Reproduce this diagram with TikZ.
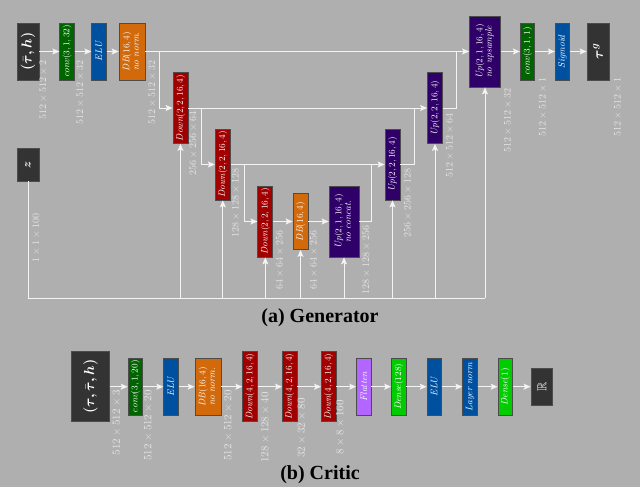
\documentclass[tikz,border=0pt]{standalone}
\usepackage{amsmath,amssymb,bm}
\usepackage{graphicx}
\usepackage{fontspec}
\newfontfamily\titlefont{Liberation Serif}
\usetikzlibrary{arrows.meta}
\definecolor{bg}{HTML}{AFAFAF}
\definecolor{dk}{HTML}{333333}
\definecolor{cgreen}{HTML}{006400}
\definecolor{cblue}{HTML}{0050A0}
\definecolor{corange}{HTML}{D2690A}
\definecolor{cred}{HTML}{A00000}
\definecolor{cpurple}{HTML}{2E0068}
\definecolor{cviolet}{HTML}{B266FF}
\definecolor{cgreen2}{HTML}{00CC00}
\definecolor{lblc}{HTML}{E6E6E6}
\definecolor{linec}{HTML}{F4F4F4}
\tikzset{
  blk/.style={draw=black!70, line width=0.8pt, inner sep=0pt, text=white, font=\fontsize{9.5}{10.5}\selectfont},
  sm/.style={blk, minimum width=14.5pt, minimum height=57pt},
  tl/.style={blk, minimum width=15pt, minimum height=71pt},
  dim/.style={rotate=90, anchor=north east, inner sep=0pt, text=lblc, font=\fontsize{10}{10}\selectfont},
  cdim/.style={dim, font=\fontsize{10.5}{10.5}\selectfont},
  ln/.style={draw=linec, line width=1pt},
  arr/.style={ln, -{Stealth[length=7pt, width=6pt, inset=1.5pt]}},
  ttl/.style={font=\titlefont\bfseries\fontsize{20}{20}\selectfont, text=black, inner sep=0pt}
}
\newcommand{\rt}[1]{\rotatebox{90}{#1}}
\newcommand{\two}[2]{\rotatebox{90}{\begin{tabular}{@{}c@{}}#1\\[-1pt]#2\end{tabular}}}
\begin{document}
\begin{tikzpicture}[x=1pt,y=-1pt]
\fill[bg] (0,0) rectangle (640,487);
% ---------------- Generator ----------------
\node[blk, fill=dk, minimum width=22pt, minimum height=57pt, font=\fontsize{14}{14}\selectfont] (tauh) at (28,51.5) {\rt{$\bm{(\bar{\tau}, h)}$}};
\node[sm, fill=cgreen] (conv1) at (67,51.5) {\rt{$\mathit{conv}(3, 1, 32)$}};
\node[sm, fill=cblue] (elu1) at (99,51.5) {\rt{$\mathit{ELU}$}};
\node[blk, fill=corange, minimum width=26pt, minimum height=57pt] (db1) at (132,51.5) {\two{$\mathit{DB}(16, 4)$}{\textit{no norm.}}};
\node[tl, fill=cred] (down1) at (180.5,108) {\rt{$\mathit{Down}(2, 2, 16, 4)$}};
\node[tl, fill=cred] (down2) at (222.8,164.5) {\rt{$\mathit{Down}(2, 2, 16, 4)$}};
\node[tl, fill=cred] (down3) at (265.3,221.5) {\rt{$\mathit{Down}(2, 2, 16, 4)$}};
\node[blk, fill=corange, minimum width=15pt, minimum height=56pt] (db2) at (300.5,221.5) {\rt{$\mathit{DB}(16, 4)$}};
\node[blk, fill=cpurple, minimum width=30pt, minimum height=71pt] (upnc) at (344,221.5) {\two{$\mathit{Up}(2, 1, 16, 4)$}{\textit{no concat.}}};
\node[tl, fill=cpurple] (up2) at (392.5,164.5) {\rt{$\mathit{Up}(2, 2, 16, 4)$}};
\node[tl, fill=cpurple] (up3) at (435,108) {\rt{$\mathit{Up}(2, 2, 16, 4)$}};
\node[blk, fill=cpurple, minimum width=31pt, minimum height=71pt] (up4) at (485,51.5) {\two{$\mathit{Up}(2, 1, 16, 4)$}{\textit{no upsample}}};
\node[sm, fill=cgreen] (conv2) at (527.5,51.5) {\rt{$\mathit{conv}(3, 1, 1)$}};
\node[sm, fill=cblue] (sig) at (562.5,51.5) {\rt{\textit{Sigmoid}}};
\node[blk, fill=dk, minimum width=22pt, minimum height=57pt, font=\fontsize{14}{14}\selectfont] (taug) at (598,51.5) {\rt{$\bm{\tau}^{\bm{g}}$}};
\node[blk, fill=dk, minimum width=22pt, minimum height=33pt, font=\fontsize{12}{12}\selectfont] (z) at (28,164.5) {\rt{$\bm{z}$}};
% coordinates
\coordinate (b1) at (159,51.5);
\coordinate (b2) at (201.7,108);
\coordinate (b3) at (244,164.5);
\coordinate (j2) at (371.7,164.5);
\coordinate (j3) at (414,108);
\coordinate (j4) at (456.7,51.5);
\coordinate (zc) at (28,298);
% connectors
\draw[arr] (tauh.east) -- (conv1.west);
\draw[arr] (conv1.east) -- (elu1.west);
\draw[arr] (elu1.east) -- (db1.west);
\draw[arr] (db1.east) -- (up4.west);
\draw[arr] (b1) |- (down1.west);
\draw[arr] (down1.east) -- (up3.west);
\draw[arr] (b2) |- (down2.west);
\draw[arr] (down2.east) -- (up2.west);
\draw[arr] (b3) |- (down3.west);
\draw[arr] (down3.east) -- (db2.west);
\draw[arr] (db2.east) -- (upnc.west);
\draw[ln] (upnc.east) -| (j2);
\draw[ln] (up2.east) -| (j3);
\draw[ln] (up3.east) -| (j4);
\draw[arr] (up4.east) -- (conv2.west);
\draw[arr] (conv2.east) -- (sig.west);
\draw[arr] (sig.east) -- (taug.west);
\draw[ln] (z.south) -- (zc) -- (up4.south |- zc);
\foreach \n in {down1,down2,down3,db2,upnc,up2,up3,up4}
  \draw[arr] (\n.south |- zc) -- (\n.south);
% labels
\node[dim] (l1) at (39.5,60) {$512\times512\times2$};
\node[dim] (l2) at (76.5,60) {$512\times512\times32$};
\node[dim] (l3) at (148.5,60) {$512\times512\times32$};
\node[dim] (l4) at (189.5,111) {$256\times256\times64$};
\node[dim] (l5) at (232,168) {$128\times128\times128$};
\node[dim] (l6) at (276,230) {$64\times64\times256$};
\node[dim] (l7) at (310,230) {$64\times64\times256$};
\node[dim] (l8) at (362.5,225) {$128\times128\times256$};
\node[dim] (l9) at (404,168) {$256\times256\times128$};
\node[dim] (l10) at (446,113) {$512\times512\times64$};
\node[dim] (l11) at (504,88) {$512\times512\times32$};
\node[dim] (l12) at (539,77) {$512\times512\times1$};
\node[dim] (l13) at (614,77) {$512\times512\times1$};
\node[dim] (l14) at (32.5,213) {$1\times1\times100$};
\node[ttl] (ta) at (320,318) {(a) Generator};
% ---------------- Critic ----------------
\node[blk, fill=dk, minimum width=37.6pt, minimum height=70pt, font=\fontsize{14}{14}\selectfont] (cin) at (90.5,386.7) {\rt{$\bm{(\tau, \bar{\tau}, h)}$}};
\node[sm, fill=cgreen] (cconv) at (135.3,386.7) {\rt{$\mathit{conv}(3, 1, 20)$}};
\node[sm, fill=cblue] (celu) at (171,386.7) {\rt{$\mathit{ELU}$}};
\node[blk, fill=corange, minimum width=26pt, minimum height=57pt] (cdb) at (208,386.7) {\two{$\mathit{DB}(16, 4)$}{\textit{no norm.}}};
\node[blk, fill=cred, minimum width=14.5pt, minimum height=70pt] (cd1) at (250,386.7) {\rt{$\mathit{Down}(4, 2, 16, 4)$}};
\node[blk, fill=cred, minimum width=14.5pt, minimum height=70pt] (cd2) at (289.7,386.7) {\rt{$\mathit{Down}(4, 2, 16, 4)$}};
\node[blk, fill=cred, minimum width=14.5pt, minimum height=70pt] (cd3) at (328.7,386.7) {\rt{$\mathit{Down}(4, 2, 16, 4)$}};
\node[sm, fill=cviolet] (flat) at (363.8,386.7) {\rt{\textit{Flatten}}};
\node[sm, fill=cgreen2] (dense1) at (398.8,386.7) {\rt{$\mathit{Dense}(128)$}};
\node[sm, fill=cblue] (celu2) at (434.3,386.7) {\rt{$\mathit{ELU}$}};
\node[sm, fill=cblue] (lnorm) at (470,386.7) {\rt{\textit{Layer norm}}};
\node[sm, fill=cgreen2] (dense2) at (505.3,386.7) {\rt{$\mathit{Dense}(1)$}};
\node[blk, fill=dk, minimum width=21.7pt, minimum height=37pt, font=\fontsize{13}{13}\selectfont] (rr) at (541.8,386.7) {\rt{$\mathbb{R}$}};
\draw[arr] (cin.east) -- (cconv.west);
\draw[arr] (cconv.east) -- (celu.west);
\draw[arr] (celu.east) -- (cdb.west);
\draw[arr] (cdb.east) -- (cd1.west);
\draw[arr] (cd1.east) -- (cd2.west);
\draw[arr] (cd2.east) -- (cd3.west);
\draw[arr] (cd3.east) -- (flat.west);
\draw[arr] (flat.east) -- (dense1.west);
\draw[arr] (dense1.east) -- (celu2.west);
\draw[arr] (celu2.east) -- (lnorm.west);
\draw[arr] (lnorm.east) -- (dense2.west);
\draw[arr] (dense2.east) -- (rr.west);
\node[cdim] (c1) at (112.5,390) {$512\times512\times3$};
\node[cdim] (c2) at (144,390) {$512\times512\times20$};
\node[cdim] (c3) at (224,390) {$512\times512\times20$};
\node[cdim] (c4) at (261,392) {$128\times128\times40$};
\node[cdim] (c5) at (297.5,398) {$32\times32\times80$};
\node[cdim] (c6) at (336,400) {$8\times8\times160$};
\node[ttl] (tb) at (320,474.5) {(b) Critic};
\end{tikzpicture}
\end{document}
